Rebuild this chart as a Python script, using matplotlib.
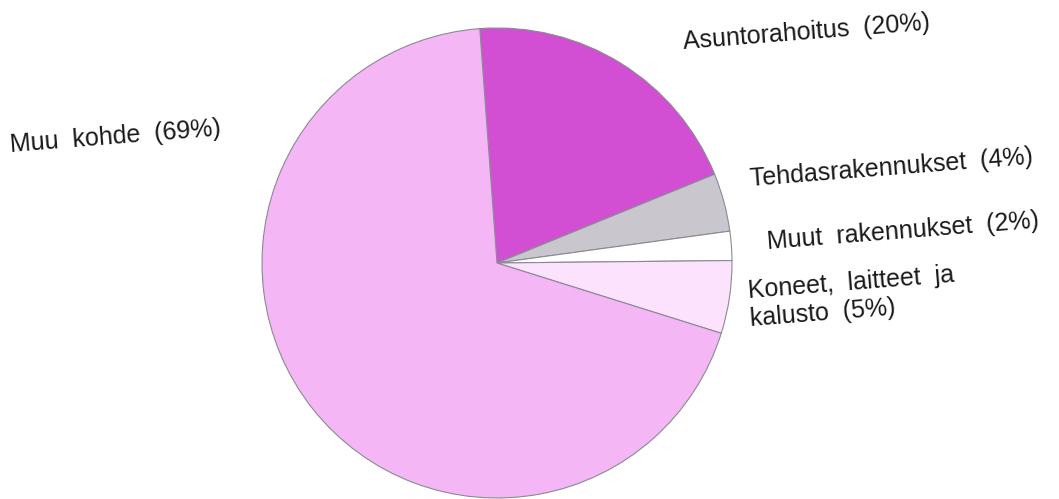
import matplotlib
matplotlib.use("Agg")
import matplotlib.pyplot as plt

labels = ["Asuntorahoitus  (20%)", "Tehdasrakennukset  (4%)", "Muut  rakennukset  (2%)",
          "Koneet,  laitteet  ja\nkalusto  (5%)", "Muu  kohde  (69%)"]
values = [20, 4, 2, 5, 69]
colors = ["#d24fd4", "#c9c7cd", "#ffffff", "#fde2fd", "#f4b6f4"]

plt.rcParams['font.family'] = ['Liberation Sans', 'DejaVu Sans']

W, H = 1059, 499
fig = plt.figure(figsize=(W / 100, H / 100), dpi=100)
ax = fig.add_axes([0, 0, 1, 1])

cx, cy, r = 497, H - 263, 235
ax.pie(values, colors=colors, startangle=94.2, counterclock=False,
       center=(cx, cy), radius=r, frame=True,
       wedgeprops=dict(edgecolor="#8a8a95", linewidth=0.8))
ax.set_xlim(0, W)
ax.set_ylim(0, H)
ax.set_aspect('equal')
ax.axis('off')

label_pos = [(683, H - 42), (750, H - 179), (767, H - 242), (749, H - 305), (10, H - 145)]
for lab, (x, y) in zip(labels, label_pos):
    ax.text(x, y, lab, fontsize=18, ha='left', va='center', rotation=4.5,
            rotation_mode='anchor', color="#1a1a1a", linespacing=1.25)

fig.savefig("out.png", dpi=100)
